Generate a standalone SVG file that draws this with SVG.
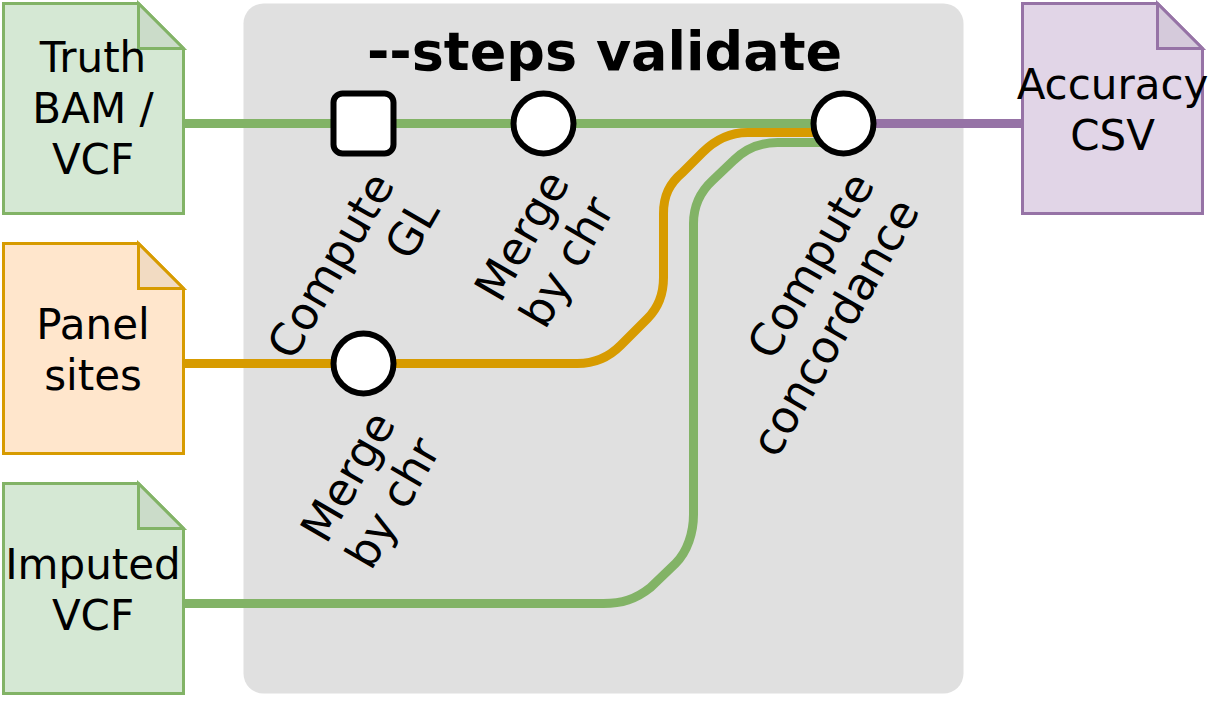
<svg xmlns="http://www.w3.org/2000/svg" width="1210" height="707" viewBox="0 0 1210 707">
<style>
text{font-family:"DejaVu Sans",sans-serif;fill:#000;text-anchor:middle}
.l{font-size:42px}
.r{font-size:45px;text-anchor:end}
.c{fill:none;stroke-width:9;stroke-linejoin:round}
.g{stroke:#82b366}.o{stroke:#d79b00}.p{stroke:#9673a6}
.n{fill:#fff;stroke:#000;stroke-width:6}
.f{stroke-width:3}
</style>
<g transform="translate(.5 .5)">
<rect x="243" y="3" width="720" height="690" rx="20" fill="#e0e0e0"/>
<text x="604" y="69" style="font-size:54px;font-weight:bold">--steps validate</text>
<g id="connectors">
<path class="c g" d="M183 123H333"/>
<path class="c g" d="M393 123H513"/>
<path class="c g" d="M573 123H813"/>
<path class="c p" d="M873 123H1022"/>
<path class="c o" d="M183 363H333"/>
<path class="c o" d="M393 363H577C595 363 608 357 620 345L647 318C657 308 663 295 663 277V213C663 195 669 183 682 172L702 152C714 140 729 132 747 132H813"/>
<path class="c g" d="M183 603H603C621 603 635 599 650 587L675 563C687 551 693 532 693 514V223C693 205 699 192 712 180L733 160C745 148 759 142 777 142H820"/>
</g>
<g id="truth"><path class="f" d="M3 3H138L183 48V213H3Z" fill="#d5e8d4" stroke="#82b366"/><path class="f" d="M138 3V48H183Z" fill="#cbdcc9" stroke="#82b366"/>
<text class="l" x="92.500" y="71">Truth</text><text class="l" x="92.500" y="122">BAM /</text><text class="l" x="92.500" y="173">VCF</text></g>
<g id="panel"><path class="f" d="M3 243H138L183 288V453H3Z" fill="#ffe6cc" stroke="#d79b00"/><path class="f" d="M138 243V288H183Z" fill="#f2dbc2" stroke="#d79b00"/>
<text class="l" x="92.500" y="338">Panel</text><text class="l" x="92.500" y="389">sites</text></g>
<g id="imputed"><path class="f" d="M3 483H138L183 528V693H3Z" fill="#d5e8d4" stroke="#82b366"/><path class="f" d="M138 483V528H183Z" fill="#cbdcc9" stroke="#82b366"/>
<text class="l" x="92.500" y="578">Imputed</text><text class="l" x="92.500" y="629">VCF</text></g>
<g id="accuracy"><path class="f" d="M1022 3H1157L1202 48V213H1022Z" fill="#e1d5e7" stroke="#9673a6"/><path class="f" d="M1157 3V48H1202Z" fill="#d5cadb" stroke="#9673a6"/>
<text class="l" x="1112" y="98">Accuracy</text><text class="l" x="1112" y="149">CSV</text></g>
<g id="gl"><rect class="n" x="333" y="93" width="60" height="60" rx="9"/>
<text class="r" transform="translate(395 184) rotate(-60)"><tspan x="0" y="0">Compute</tspan><tspan x="0" dy="52">GL</tspan></text></g>
<g id="merge1"><circle class="n" cx="543" cy="123" r="30"/>
<text class="r" transform="translate(570 182) rotate(-60)"><tspan x="0" y="0">Merge</tspan><tspan x="0" dy="52">by chr</tspan></text></g>
<g id="concord"><circle class="n" cx="843" cy="123" r="30"/>
<text class="r" transform="translate(875 184) rotate(-60)"><tspan x="0" y="0">Compute</tspan><tspan x="0" dy="52">concordance</tspan></text></g>
<g id="merge2"><circle class="n" cx="363" cy="363" r="30"/>
<text class="r" transform="translate(396 423) rotate(-60)"><tspan x="0" y="0">Merge</tspan><tspan x="0" dy="52">by chr</tspan></text></g>
</g>
</svg>
